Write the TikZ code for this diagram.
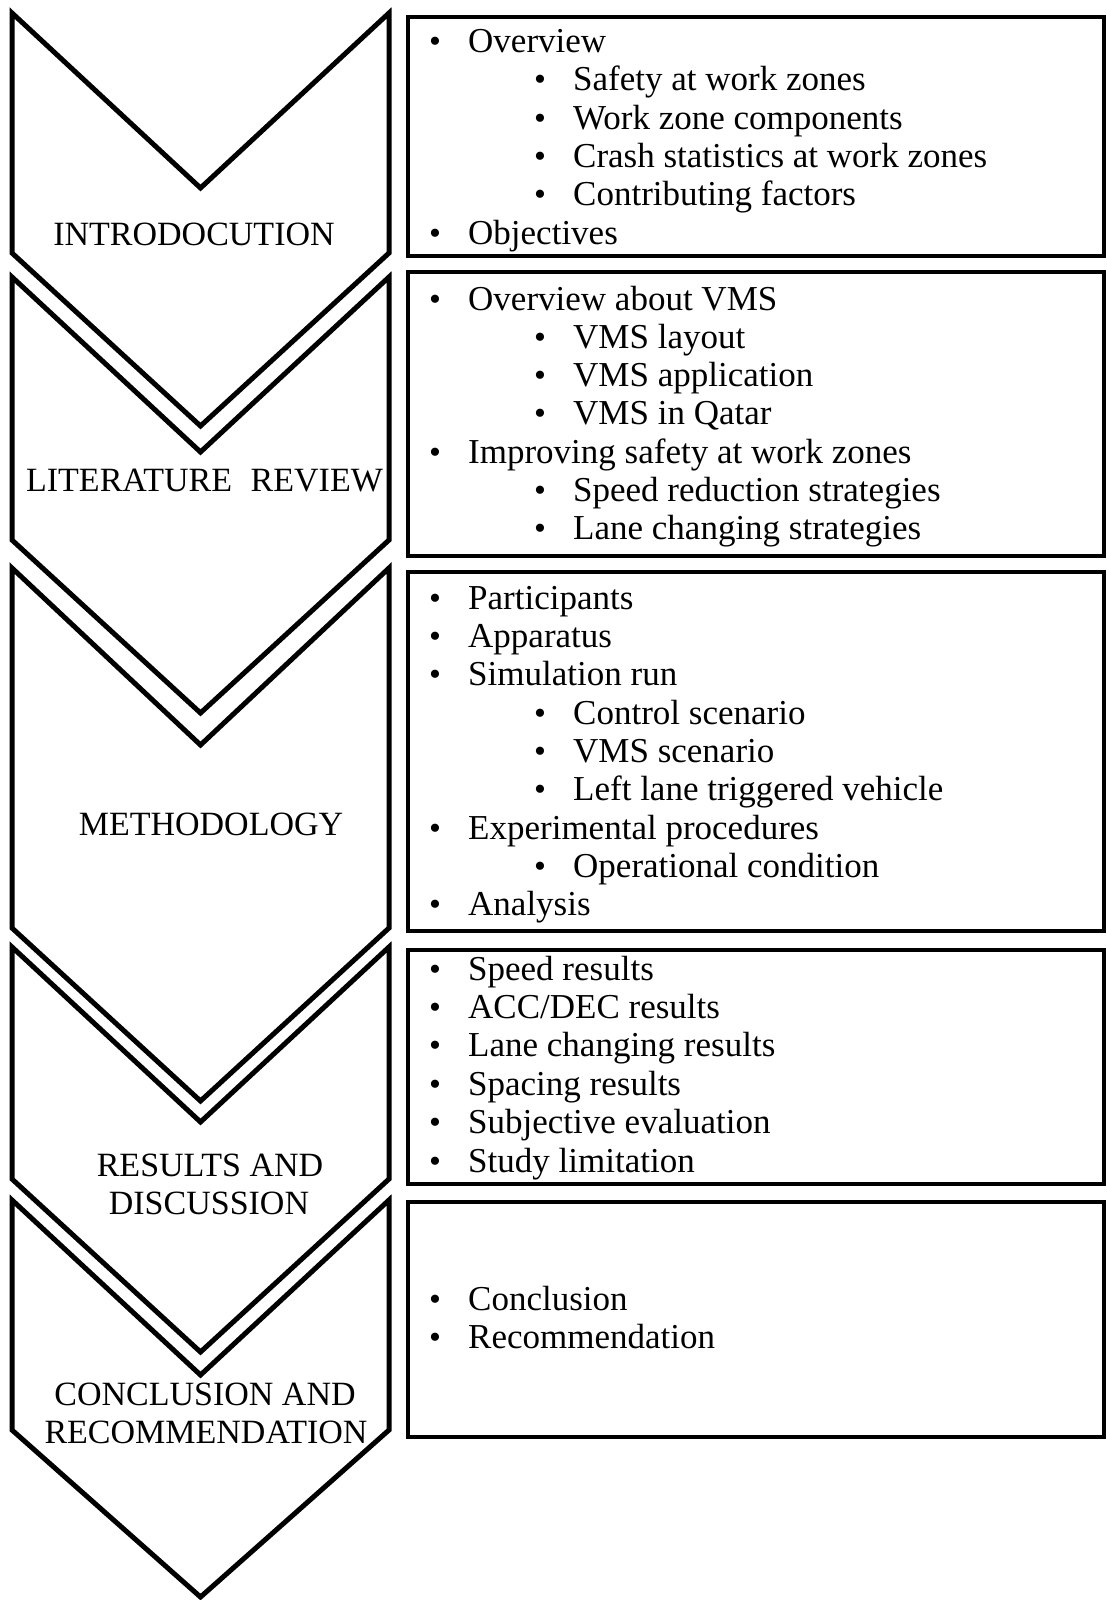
\documentclass[tikz,border=0pt]{standalone}
\usepackage{fontspec}
\setmainfont{Liberation Serif}
\newcommand\LiOne[3]{\node[bul] (#1-b) at (435,#2) {•};\node[txt] (#1) at (468,#2) {#3};}
\newcommand\LiTwo[3]{\node[bul] (#1-b) at (540,#2) {•};\node[txt] (#1) at (573,#2) {#3};}
\begin{document}
\begin{tikzpicture}[x=1pt,y=-1pt,
  chev/.style={draw=black,fill=white,line width=5pt,line join=miter},
  listbox/.style={draw=black,line width=3.3pt,inner sep=0pt,fill=white},
  txt/.style={inner sep=0pt,anchor=base west,font=\fontsize{35}{40}\selectfont},
  bul/.style={inner sep=0pt,anchor=base,font=\fontsize{34}{40}\selectfont},
  lab/.style={inner sep=0pt,anchor=base,font=\fontsize{34}{40}\selectfont}]
\useasboundingbox (0,0) rectangle (1106,1600);
\fill[white] (0,0) rectangle (1106,1600);
% chevrons
\draw[chev] (12,13) -- (200.5,188) -- (389,13) -- (389,253) -- (200.5,426) -- (12,253) -- cycle;
\draw[chev] (12,277) -- (200.5,452) -- (389,277) -- (389,540) -- (200.5,713) -- (12,540) -- cycle;
\draw[chev] (12,568) -- (200.5,745) -- (389,568) -- (389,928) -- (200.5,1101) -- (12,928) -- cycle;
\draw[chev] (12,947) -- (200.5,1122) -- (389,947) -- (389,1179) -- (200.5,1352) -- (12,1179) -- cycle;
\draw[chev] (12,1200) -- (200.5,1375) -- (389,1200) -- (389,1430) -- (200.5,1597) -- (12,1430) -- cycle;
% chevron labels
\node[lab] (l1) at (194,245) {INTRODOCUTION};
\node[lab] (l2) at (204.5,491) {LITERATURE\hspace{0.3em} REVIEW};
\node[lab] (l3) at (211,835) {METHODOLOGY};
\node[lab] (l4a) at (210,1176) {RESULTS AND};
\node[lab] (l4b) at (209,1214) {DISCUSSION};
\node[lab] (l5a) at (205,1405) {CONCLUSION AND};
\node[lab] (l5b) at (206,1443) {RECOMMENDATION};
% boxes
\node[listbox,minimum width=696pt,minimum height=239pt] (box1) at (756,136.5) {};
\node[listbox,minimum width=696pt,minimum height=284pt] (box2) at (756,414) {};
\node[listbox,minimum width=696pt,minimum height=359pt] (box3) at (756,751.5) {};
\node[listbox,minimum width=696pt,minimum height=234pt] (box4) at (756,1067) {};
\node[listbox,minimum width=696pt,minimum height=235pt] (box5) at (756,1319.5) {};
% box 1
\LiOne{a1}{52.5}{Overview}
\LiTwo{a2}{90.8}{Safety at work zones}
\LiTwo{a3}{129.1}{Work zone components}
\LiTwo{a4}{167.4}{Crash statistics at work zones}
\LiTwo{a5}{205.7}{Contributing factors}
\LiOne{a6}{244}{Objectives}
% box 2
\LiOne{b1}{310}{Overview about VMS}
\LiTwo{b2}{348.3}{VMS layout}
\LiTwo{b3}{386.6}{VMS application}
\LiTwo{b4}{424.9}{VMS in Qatar}
\LiOne{b5}{463.2}{Improving safety at work zones}
\LiTwo{b6}{501.5}{Speed reduction strategies}
\LiTwo{b7}{539.8}{Lane changing strategies}
% box 3
\LiOne{c1}{609}{Participants}
\LiOne{c2}{647.4}{Apparatus}
\LiOne{c3}{685.7}{Simulation run}
\LiTwo{c4}{724.1}{Control scenario}
\LiTwo{c5}{762.4}{VMS scenario}
\LiTwo{c6}{800.8}{Left lane triggered vehicle}
\LiOne{c7}{839.1}{Experimental procedures}
\LiTwo{c8}{877.5}{Operational condition}
\LiOne{c9}{915.8}{Analysis}
% box 4
\LiOne{d1}{980}{Speed results}
\LiOne{d2}{1018.4}{ACC/DEC results}
\LiOne{d3}{1056.8}{Lane changing results}
\LiOne{d4}{1095.2}{Spacing results}
\LiOne{d5}{1133.6}{Subjective evaluation}
\LiOne{d6}{1172}{Study limitation}
% box 5
\LiOne{e1}{1310}{Conclusion}
\LiOne{e2}{1348}{Recommendation}
\end{tikzpicture}
\end{document}
